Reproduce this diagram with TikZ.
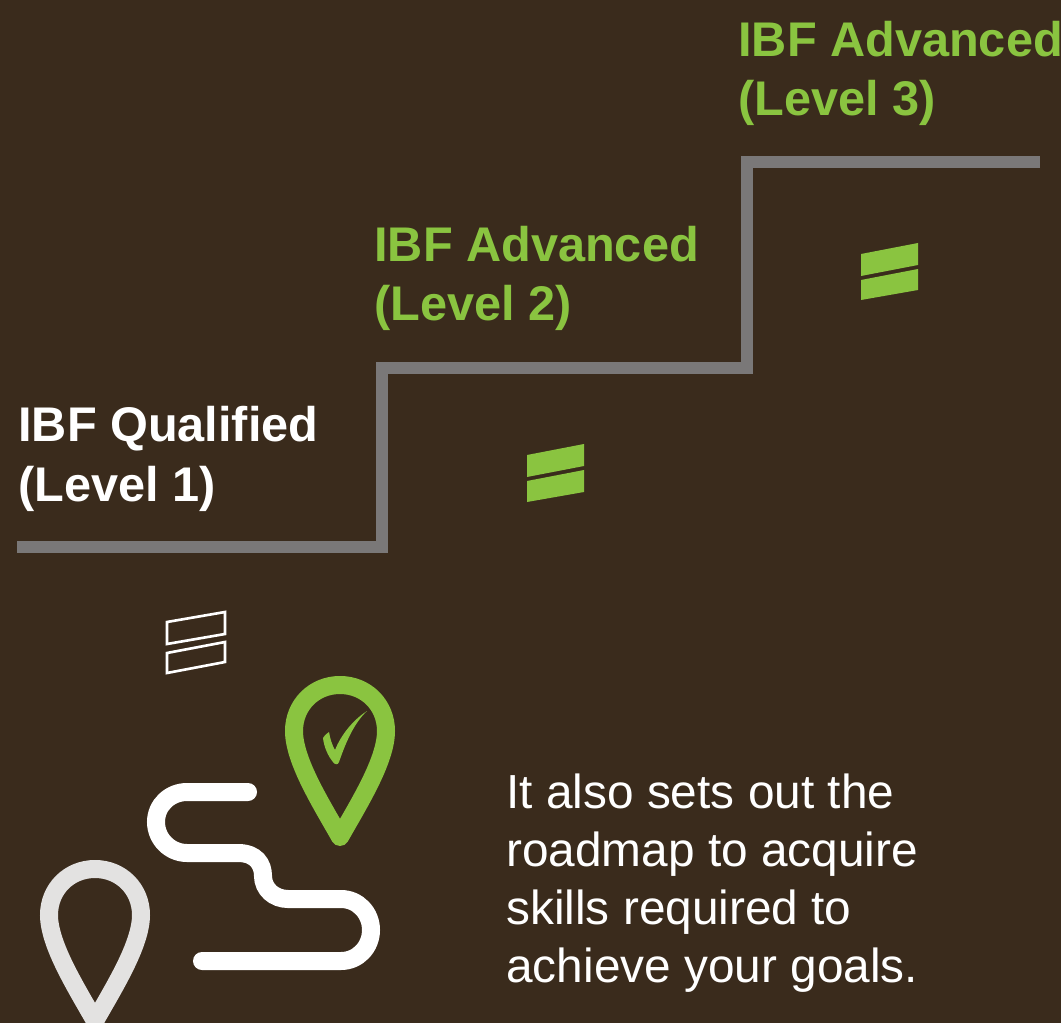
\documentclass[tikz,border=0pt]{standalone}
\usepackage{fontspec}
\setmainfont{Liberation Sans}
\definecolor{bgbrown}{HTML}{3A2B1C}
\definecolor{leafgreen}{HTML}{8AC440}
\definecolor{stairgray}{HTML}{7A7878}
\definecolor{pingray}{HTML}{E3E2E1}
\tikzset{
  levelhead/.style = {anchor = base west, align = left, inner sep = 0pt, font = \fontsize{27.7}{33.7}\selectfont\bfseries},
  bodytext/.style = {anchor = base west, align = left, inner sep = 0pt, text = white, font = \fontsize{27.2}{33}\selectfont},
  pinline/.style = {line width = 10.25pt, line join = round},
  roadline/.style = {draw = white, line width = 10.25pt, line cap = round},
  stripefill/.style = {fill = leafgreen},
  stripeline/.style = {draw = white, line width = 1.5pt}
}
\newcommand{\pinpath}{(0,0) .. controls (-18,-32) and (-46,-76) .. (-46,-106)
  .. controls (-46,-132) and (-26,-152) .. (0,-152)
  .. controls (26,-152) and (46,-132) .. (46,-106)
  .. controls (46,-76) and (18,-32) .. cycle}
\begin{document}
\begin{tikzpicture}[x = 0.02cm, y = -0.02cm]
\path[use as bounding box, clip] (0,0) rectangle (1061,1023);
\fill[bgbrown] (0,0) rectangle (1061,1023);
% stairs
\draw[stairgray, line width = 12*0.5692pt] (17,547) -- (382,547) -- (382,368) -- (747,368) -- (747,162) -- (1040,162);
% labels
\node[levelhead, text = white] (level1) at (18,501) {IBF Qualified\\(Level 1)};
\node[levelhead, text = leafgreen] (level2) at (374,321) {IBF Advanced\\(Level 2)};
\node[levelhead, text = leafgreen] (level3) at (738,116) {IBF Advanced\\(Level 3)};
\node[bodytext] (roadmap) at (506,982) {It also sets out the\\roadmap to acquire\\skills required to\\achieve your goals.};
% stripes
\draw[stripeline] (167,622) -- (225,612) -- (225,634) -- (167,644) -- cycle;
\draw[stripeline] (167,653) -- (225,642) -- (225,662) -- (167,673) -- cycle;
\fill[stripefill] (527,455) -- (584,444) -- (584,466) -- (527,477) -- cycle;
\fill[stripefill] (527,481) -- (584,470) -- (584,492) -- (527,502) -- cycle;
\fill[stripefill] (861,254) -- (918,243) -- (918,265) -- (861,276) -- cycle;
\fill[stripefill] (861,280) -- (918,269) -- (918,290) -- (861,300) -- cycle;
% road
\draw[roadline] (248,792) -- (187,792) .. controls (170,792) and (156,805) .. (156,822)
  .. controls (156,839) and (170,853) .. (187,853) -- (238,853)
  .. controls (256,853) and (263,864) .. (263,876)
  .. controls (263,889) and (274,899) .. (288,899) -- (341,899)
  .. controls (358,899) and (371,913) .. (371,930)
  .. controls (371,947) and (358,961) .. (341,961) -- (202,961);
% pins
\draw[leafgreen, pinline, shift = {(340,837)}] \pinpath;
\draw[pingray, pinline, shift = {(95,1021)}] \pinpath;
% tick
\fill[leafgreen] (367,711) .. controls (353,724) and (345,745) .. (339,762)
  .. controls (338,765) and (335,765) .. (333,762)
  .. controls (328,756) and (324,747) .. (323,738)
  .. controls (325,735) and (327,733) .. (329,732)
  .. controls (330,738) and (332,745) .. (335,750)
  .. controls (341,735) and (353,720) .. cycle;
\end{tikzpicture}
\end{document}
